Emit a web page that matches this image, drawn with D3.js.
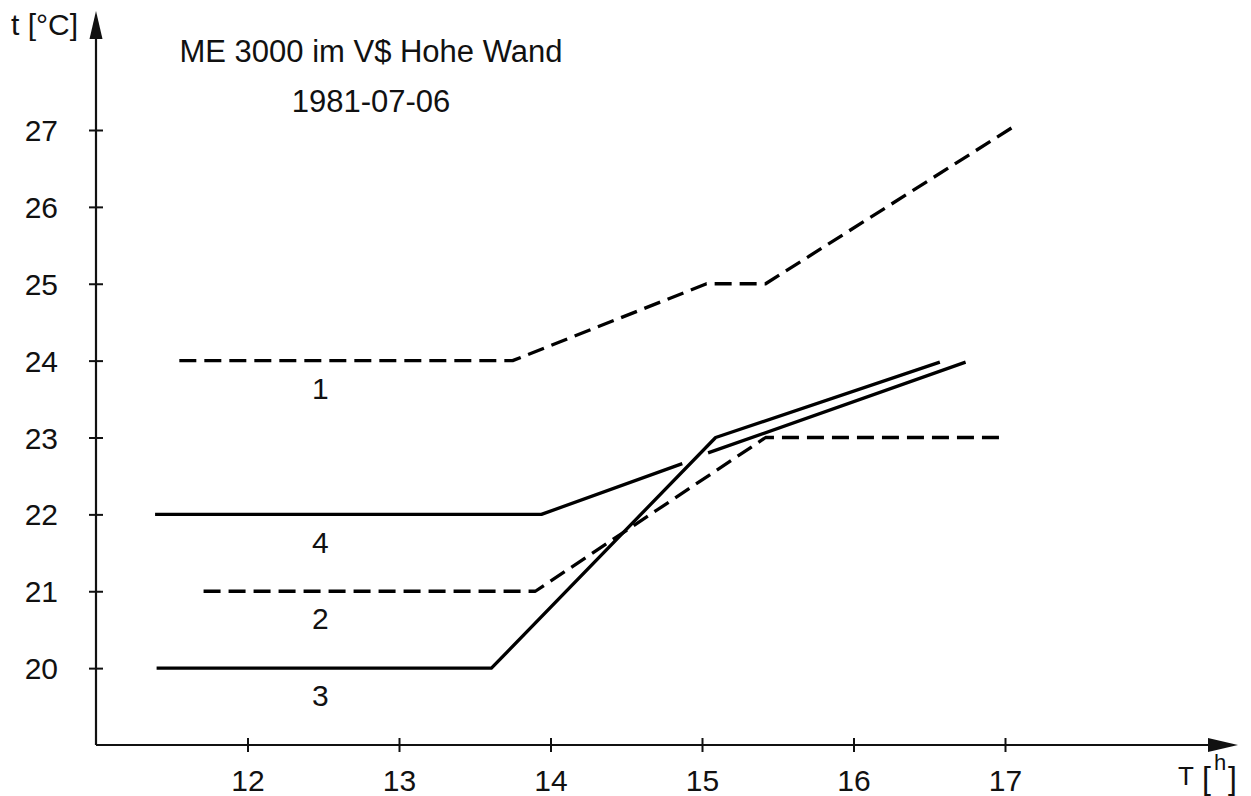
<!DOCTYPE html>
<html>
<head>
<meta charset="utf-8">
<script src="https://cdn.jsdelivr.net/npm/d3@7"></script>
<style>
  body { margin: 0; background: #fff; }
  svg text { font-family: "Liberation Sans", Arial, sans-serif; fill: #111; }
</style>
</head>
<body>
<div id="chart"></div>
<script>
// hours on T axis, temperatures on t axis
const xTicks = [12, 13, 14, 15, 16, 17];
const yTicks = [20, 21, 22, 23, 24, 25, 26, 27];

// curve 1 (dashed)
const series1 = [[11.55, 24], [13.75, 24], [15.03, 25], [15.42, 25], [17.07, 27.06]];
// curve 2 (dashed)
const series2 = [[11.71, 21], [13.9, 21], [15.42, 23], [16.97, 23]];
// curve 3 (solid)
const series3 = [[11.4, 20], [13.61, 20], [15.09, 23], [16.57, 23.98]];
// curve 4 (solid), broken where curve 3 crosses it
const series4 = [[11.39, 22], [13.94, 22], [14.87, 22.66], null, [15.04, 22.8], [16.74, 23.98]];

const curveNames = ['1', '2', '3', '4'];
const labelHour = [12.48, 12.48, 12.48, 12.48];
const labelTemp = [23.64, 20.64, 19.64, 21.63];

const titleLines = ['ME 3000 im V$ Hohe Wand', '1981-07-06'];

const width = 1251;
const height = 796;

const svg = d3.select('#chart')
  .append('svg')
    .attr('width', width)
    .attr('height', height);

const x = d3.scaleLinear()
  .domain([11, 17])
  .range([96, 1005]);

const y = d3.scaleLinear()
  .domain([19, 27])
  .range([745, 130]);

const fontSize = 30;

// axes lines with arrow heads
const axisColor = '#111';
svg.append('line')
  .attr('x1', x(11)).attr('y1', y(19))
  .attr('x2', x(11)).attr('y2', 30)
  .attr('stroke', axisColor).attr('stroke-width', 2.2);
svg.append('path')
  .attr('d', `M${x(11)},11 L${x(11) - 6.5},39 L${x(11) + 6.5},39 Z`)
  .attr('fill', axisColor);

svg.append('line')
  .attr('x1', x(11)).attr('y1', y(19))
  .attr('x2', 1215).attr('y2', y(19))
  .attr('stroke', axisColor).attr('stroke-width', 2.2);
svg.append('path')
  .attr('d', `M1238,${y(19)} L1208,${y(19) - 7} L1208,${y(19) + 7} Z`)
  .attr('fill', axisColor);

// ticks crossing the axes
const yAxis = svg.append('g')
  .attr('transform', `translate(${x(11)},0)`)
  .call(d3.axisLeft(y).tickValues(yTicks).tickSize(7).tickPadding(31).tickFormat(d3.format('d')));
yAxis.select('.domain').remove();
yAxis.selectAll('.tick line')
  .attr('x1', -7).attr('x2', 7)
  .attr('stroke', axisColor).attr('stroke-width', 2);
yAxis.selectAll('.tick text')
  .attr('font-size', fontSize)
  .attr('font-family', '"Liberation Sans", Arial, sans-serif')
  .attr('dy', '0.35em');

const xAxis = svg.append('g')
  .attr('transform', `translate(0,${y(19)})`)
  .call(d3.axisBottom(x).tickValues(xTicks).tickSize(7).tickPadding(18).tickFormat(d3.format('d')));
xAxis.select('.domain').remove();
xAxis.selectAll('.tick line')
  .attr('y1', -7).attr('y2', 7)
  .attr('stroke', axisColor).attr('stroke-width', 2);
xAxis.selectAll('.tick text')
  .attr('font-size', fontSize)
  .attr('font-family', '"Liberation Sans", Arial, sans-serif');

// axis titles
svg.append('text')
  .attr('x', 11).attr('y', 35)
  .attr('font-size', fontSize)
  .text('t [°C]');

const tLabel = svg.append('text')
  .attr('x', 1178).attr('y', 785)
  .attr('font-size', 26);
tLabel.append('tspan').text('T');
tLabel.append('tspan').attr('x', 1202).attr('y', 789).attr('font-size', 32).text('[');
tLabel.append('tspan').attr('x', 1214).attr('y', 770).attr('font-size', 22).text('h');
tLabel.append('tspan').attr('x', 1228).attr('y', 789).attr('font-size', 32).text(']');

// title
svg.selectAll('text.title')
  .data(titleLines)
  .join('text')
    .attr('class', 'title')
    .attr('x', 371)
    .attr('y', (d, i) => 62 + i * 50)
    .attr('text-anchor', 'middle')
    .attr('font-size', 31)
    .text(d => d);

// curves
const line = d3.line()
  .defined(d => d !== null)
  .x(d => x(d[0]))
  .y(d => y(d[1]));

const curves = [
  { data: series1, dashed: true },
  { data: series2, dashed: true },
  { data: series3, dashed: false },
  { data: series4, dashed: false },
];

svg.append('g')
  .selectAll('path')
  .data(curves)
  .join('path')
    .attr('d', d => line(d.data))
    .attr('fill', 'none')
    .attr('stroke', '#000')
    .attr('stroke-width', 3.3)
    .attr('stroke-linejoin', 'round')
    .attr('stroke-dasharray', d => (d.dashed ? '17,8' : null));

// curve numbers
svg.append('g')
  .selectAll('text')
  .data(curveNames)
  .join('text')
    .attr('x', (d, i) => x(labelHour[i]))
    .attr('y', (d, i) => y(labelTemp[i]))
    .attr('dy', '0.35em')
    .attr('text-anchor', 'middle')
    .attr('font-size', fontSize)
    .text(d => d);
</script>
</body>
</html>
